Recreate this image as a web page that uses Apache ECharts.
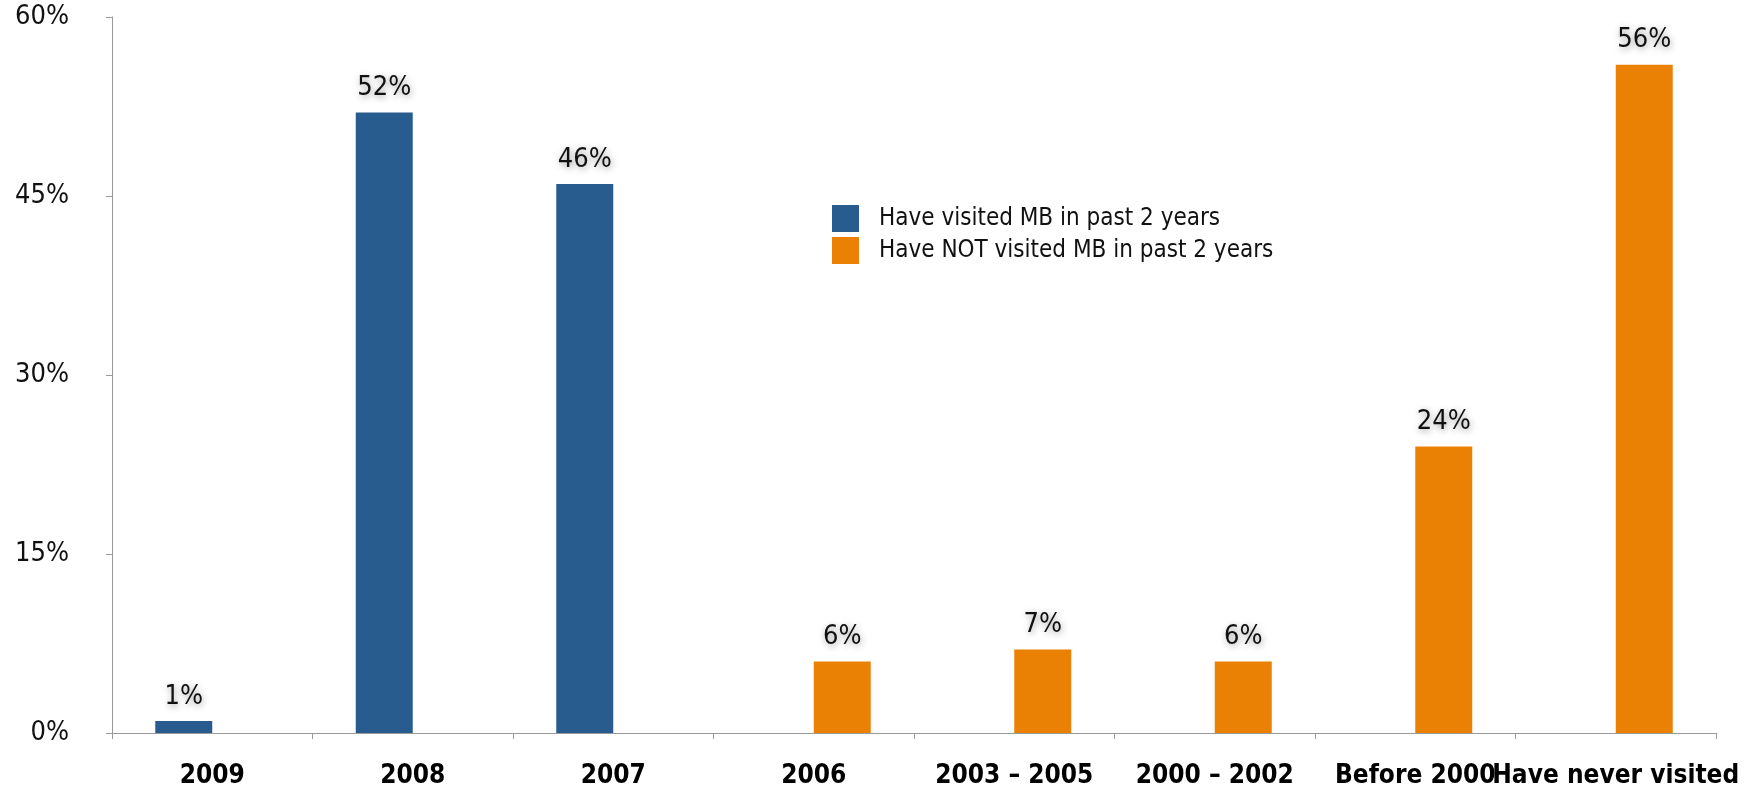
<!DOCTYPE html>
<html><head><meta charset="utf-8">
<script src="https://cdn.jsdelivr.net/npm/echarts@6/dist/echarts.min.js"></script>
<style>html,body{margin:0;padding:0;background:#fff}#c{width:1756px;height:789px}</style>
</head><body><div id="c"></div>
<script>
const categories = ['2009','2008','2007','2006','2003 – 2005','2000 – 2002','Before 2000','Have never visited'];
const visited = [1, 52, 46, null, null, null, null, null];
const notVisited = [null, null, null, 6, 7, 6, 24, 56];
const seriesNames = ['Have visited MB in past 2 years','Have NOT visited MB in past 2 years'];
const yTicks = [0, 15, 30, 45, 60];

const font = '"DejaVu Sans Condensed", "DejaVu Sans", sans-serif';
const labelCfg = {
  show: true, position: 'top', distance: 11,
  formatter: p => p.value + '%',
  fontFamily: font, fontSize: 27, color: '#111',
  textShadowColor: 'rgba(0,0,0,0.4)', textShadowBlur: 7, textShadowOffsetX: 1, textShadowOffsetY: 2
};
const chart = echarts.init(document.getElementById('c'));
chart.setOption({
  animation: false,
  grid: {left: 112, right: 40, top: 17, bottom: 56},
  legend: {
    left: 832, top: 205, padding: 0, orient: 'vertical', itemWidth: 27, itemHeight: 27, itemGap: 5,
    icon: 'rect', textStyle: {fontFamily: font, fontSize: 24, color: '#111', padding: [0,0,0,15]},
    data: seriesNames
  },
  xAxis: {
    type: 'category', data: categories,
    axisLine: {lineStyle: {color: '#999'}},
    axisTick: {show: true, length: 6, lineStyle: {color: '#999'}},
    axisLabel: {fontFamily: font, fontWeight: 'bold', fontSize: 26, color: '#000', margin: 30, interval: 0}
  },
  yAxis: {
    type: 'value', min: yTicks[0], max: yTicks[yTicks.length-1], interval: 15,
    splitLine: {show: false},
    axisLine: {show: true, lineStyle: {color: '#999'}},
    axisTick: {show: true, length: 6, lineStyle: {color: '#999'}},
    axisLabel: {formatter: '{value}%', fontFamily: font, fontSize: 27, color: '#111', margin: 43}
  },
  series: [
    {name: seriesNames[0], type: 'bar', data: visited, barWidth: 57, barGap: '0%', itemStyle: {color: '#295C8E'}, label: labelCfg},
    {name: seriesNames[1], type: 'bar', data: notVisited, barWidth: 57, barGap: '0%', itemStyle: {color: '#EA8105'}, label: labelCfg}
  ]
});
</script></body></html>
